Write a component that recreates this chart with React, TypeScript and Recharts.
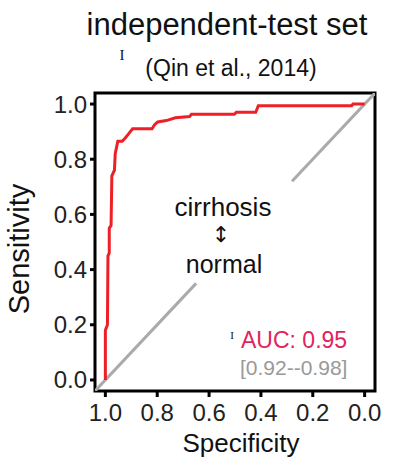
import React from 'react';
import {
  LineChart,
  Line,
  XAxis,
  YAxis,
  ReferenceArea,
  Customized,
} from 'recharts';

// ROC curve (specificity, sensitivity)
const specificity = [
  1.0, 1.0, 0.992, 0.99, 0.985, 0.985, 0.978, 0.975, 0.965, 0.962, 0.952,
  0.935, 0.925, 0.912, 0.895, 0.82, 0.81, 0.798, 0.765, 0.73, 0.675, 0.668,
  0.503, 0.495, 0.42, 0.41, 0.05, 0.045, 0.0,
];
const sensitivity = [
  0.0, 0.18, 0.2, 0.45, 0.46, 0.55, 0.56, 0.74, 0.76, 0.82, 0.865,
  0.865, 0.875, 0.89, 0.91, 0.91, 0.925, 0.935, 0.94, 0.95, 0.955, 0.963,
  0.963, 0.97, 0.97, 0.994, 0.994, 1.0, 1.0,
];

// chance diagonal, broken where the "cirrhosis / normal" label sits
const diagLowerSpec = [1.04, 0.65];
const diagLowerSens = [-0.04, 0.35];
const diagUpperSpec = [0.28, -0.04];
const diagUpperSens = [0.72, 1.04];

const ticks = [0, 0.2, 0.4, 0.6, 0.8, 1.0];
const domain: [number, number] = [-0.04, 1.04];

const rocData = specificity.map((s, i) => ({ spec: s, sens: sensitivity[i] }));
const diagLower = diagLowerSpec.map((s, i) => ({ spec: s, sens: diagLowerSens[i] }));
const diagUpper = diagUpperSpec.map((s, i) => ({ spec: s, sens: diagUpperSens[i] }));

const font = 'Liberation Sans, Arial, sans-serif';

const Annotations = () => (
  <g fontFamily={font}>
    <text x={227} y={35} fontSize={31} textAnchor="middle" fill="#111">
      independent-test set
    </text>
    <text x={122} y={60} fontSize={15} fontFamily="Liberation Serif, serif" textAnchor="middle" fill="#111">
      I
    </text>
    <text x={231} y={76} fontSize={23} textAnchor="middle" fill="#111">
      (Qin et al., 2014)
    </text>
    <text x={223} y={216} fontSize={26} textAnchor="middle" fill="#111">
      cirrhosis
    </text>
    <text x={221} y={242} fontSize={22} fontFamily="DejaVu Sans, sans-serif" textAnchor="middle" fill="#111">
      ↕
    </text>
    <text x={224} y={273} fontSize={25} textAnchor="middle" fill="#111">
      normal
    </text>
    <text x={232} y={339} fontSize={11} fontFamily="Liberation Serif, serif" textAnchor="middle" fill="#111">
      I
    </text>
    <text x={241} y={348} fontSize={23} fill="#E2245C">
      AUC: 0.95
    </text>
    <text x={240} y={375} fontSize={21} fill="#999">
      [0.92--0.98]
    </text>
    <text x={241} y={452} fontSize={26} textAnchor="middle" fill="#111">
      Specificity
    </text>
    <text x={29} y={249} fontSize={29} textAnchor="middle" fill="#111" transform="rotate(-90, 29, 249)">
      Sensitivity
    </text>
  </g>
);

export default function App() {
  return (
    <div style={{ position: 'absolute', left: 0, top: 0, background: '#fff' }}>
      <LineChart width={395} height={463} margin={{ top: 93, right: 20, bottom: 0, left: 0 }}>
        <XAxis
          type="number"
          dataKey="spec"
          domain={domain}
          reversed
          allowDataOverflow
          ticks={ticks}
          tickFormatter={(v) => v.toFixed(1)}
          axisLine={false}
          tickLine={{ stroke: '#000', strokeWidth: 3 }}
          tickSize={6}
          tickMargin={7}
          height={72}
          tick={{ fill: '#222', fontSize: 24, fontFamily: font }}
        />
        <YAxis
          type="number"
          dataKey="sens"
          domain={domain}
          allowDataOverflow
          ticks={ticks}
          tickFormatter={(v) => v.toFixed(1)}
          axisLine={false}
          tickLine={{ stroke: '#000', strokeWidth: 3 }}
          tickSize={5}
          tickMargin={3}
          width={95}
          tick={{ fill: '#222', fontSize: 24, fontFamily: font }}
        />
        <Line
          data={diagLower}
          dataKey="sens"
          stroke="#AAAAAA"
          strokeWidth={3}
          dot={false}
          isAnimationActive={false}
        />
        <Line
          data={diagUpper}
          dataKey="sens"
          stroke="#AAAAAA"
          strokeWidth={3}
          dot={false}
          isAnimationActive={false}
        />
        <Line
          data={rocData}
          dataKey="sens"
          type="linear"
          stroke="#EE2027"
          strokeWidth={3}
          dot={false}
          isAnimationActive={false}
        />
        <ReferenceArea
          x1={-0.04}
          x2={1.04}
          y1={-0.04}
          y2={1.04}
          fill="none"
          fillOpacity={0}
          stroke="#000"
          strokeWidth={3}
        />
        <Customized component={Annotations} />
      </LineChart>
    </div>
  );
}
